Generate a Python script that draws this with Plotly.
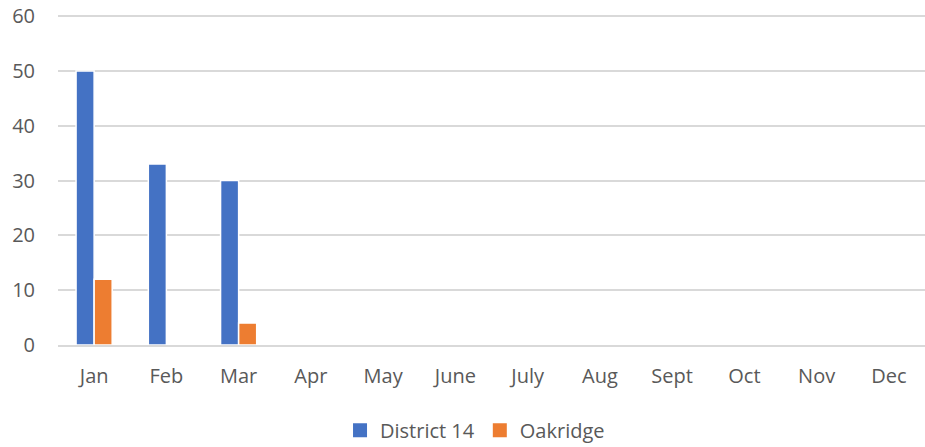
import plotly.graph_objects as go

months = ["Jan", "Feb", "Mar", "Apr", "May", "June", "July", "Aug", "Sept", "Oct", "Nov", "Dec"]
district14 = [50, 33, 30, None, None, None, None, None, None, None, None, None]
oakridge = [12, 0, 4, None, None, None, None, None, None, None, None, None]
series_names = ["District 14", "Oakridge"]
series_colors = ["#4472C4", "#ED7D31"]
y_ticks = [0, 10, 20, 30, 40, 50, 60]

font_family = "Open Sans, Liberation Sans, sans-serif"
txt = "#595959"

fig = go.Figure()
for name, vals, col in zip(series_names, [district14, oakridge], series_colors):
    fig.add_trace(go.Bar(x=months, y=vals, name=name, showlegend=False, legendgroup=name,
                         marker=dict(color=col, line=dict(color="white", width=1.5))))
for name, col in zip(series_names, series_colors):
    fig.add_trace(go.Scatter(x=[None], y=[None], mode="markers", name=name, legendgroup=name,
                             marker=dict(symbol="square", size=14, color=col)))

fig.update_layout(
    width=925, height=447,
    margin=dict(l=58, r=0, t=15, b=102, autoexpand=False),
    paper_bgcolor="white", plot_bgcolor="white",
    barmode="group", bargap=0.5, bargroupgap=0.0,
    font=dict(family=font_family, size=20, color=txt),
    legend=dict(orientation="h", x=0.481, y=-0.258, xanchor="center", yanchor="middle",
                font=dict(size=20, color=txt), itemsizing="trace", itemwidth=30),
    showlegend=True,
)
fig.update_xaxes(showgrid=False, showline=True, linecolor="#D9D9D9", linewidth=1.5,
                 ticks="", ticklabelstandoff=12, tickfont=dict(size=20, color=txt))
fig.update_yaxes(range=[0, 60.2], tickvals=y_ticks, showgrid=True, gridcolor="#D9D9D9", gridwidth=1.5,
                 zeroline=False, showline=False, ticks="", ticklabelstandoff=22,
                 ticklabeloverflow="allow", tickfont=dict(size=20, color=txt))

fig.write_html("out.html", config={"displayModeBar": False},
               post_script="document.body.style.margin='0';document.body.style.overflow='hidden';")
